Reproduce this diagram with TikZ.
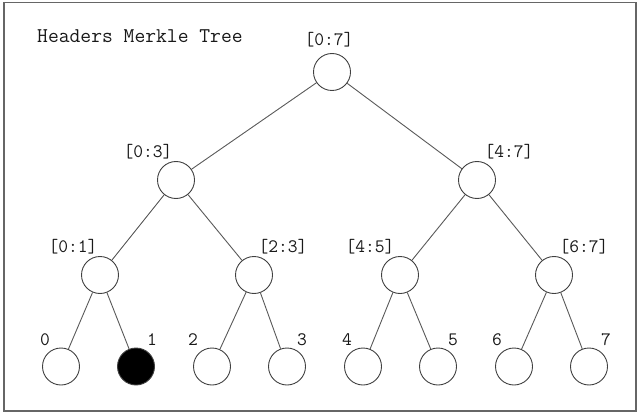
\documentclass[tikz,border=0pt]{standalone}
\usepackage{tikz}
\begin{document}
\begin{tikzpicture}[x=1pt,y=-1pt,
  hnode/.style={circle,draw=black!75,line width=0.9pt,minimum size=37pt,inner sep=0pt},
  leafon/.style={hnode,fill=black},
  edge/.style={draw=black!65,line width=0.9pt},
  lbl/.style={font=\fontsize{19}{21}\ttfamily,text=black!90,inner sep=0pt},
  title/.style={font=\fontsize{21}{23}\ttfamily,text=black!90,inner sep=0pt,anchor=west}]
\useasboundingbox (0,0) rectangle (639,414);
% outer frame
\draw[black!60,line width=1.6pt] (4,2.5) rectangle (636,411);

\node[title] (ttl) at (37,36) {Headers Merkle Tree};

% tree nodes
\node[hnode] (r)   at (332,72)  {};
\node[hnode] (l03) at (176,180) {};
\node[hnode] (l47) at (477,180) {};
\node[hnode] (l01) at (100,275) {};
\node[hnode] (l23) at (254,275) {};
\node[hnode] (l45) at (400,275) {};
\node[hnode] (l67) at (554,275) {};
\node[hnode]  (f0) at (61,366.5)  {};
\node[leafon] (f1) at (136,366.5) {};
\node[hnode]  (f2) at (212,366.5) {};
\node[hnode]  (f3) at (287,366.5) {};
\node[hnode]  (f4) at (363,366.5) {};
\node[hnode]  (f5) at (438,366.5) {};
\node[hnode]  (f6) at (514,366.5) {};
\node[hnode]  (f7) at (589,366.5) {};

% connectors
\draw[edge] (r) -- (l03);
\draw[edge] (r) -- (l47);
\draw[edge] (l03) -- (l01);
\draw[edge] (l03) -- (l23);
\draw[edge] (l47) -- (l45);
\draw[edge] (l47) -- (l67);
\draw[edge] (l01) -- (f0);
\draw[edge] (l01) -- (f1);
\draw[edge] (l23) -- (f2);
\draw[edge] (l23) -- (f3);
\draw[edge] (l45) -- (f4);
\draw[edge] (l45) -- (f5);
\draw[edge] (l67) -- (f6);
\draw[edge] (l67) -- (f7);

% labels
\node[lbl] (t07) at (329,40)  {[0:7]};
\node[lbl] (t03) at (148,152) {[0:3]};
\node[lbl] (t47) at (509,152) {[4:7]};
\node[lbl] (t01) at (73,247)  {[0:1]};
\node[lbl] (t23) at (283,247) {[2:3]};
\node[lbl] (t45) at (370,247) {[4:5]};
\node[lbl] (t67) at (584,247) {[6:7]};
\node[lbl] (n0) at (45,340)  {0};
\node[lbl] (n1) at (152,340) {1};
\node[lbl] (n2) at (193,340) {2};
\node[lbl] (n3) at (302,340) {3};
\node[lbl] (n4) at (347,340) {4};
\node[lbl] (n5) at (453,340) {5};
\node[lbl] (n6) at (497,340) {6};
\node[lbl] (n7) at (606,340) {7};
\end{tikzpicture}
\end{document}
